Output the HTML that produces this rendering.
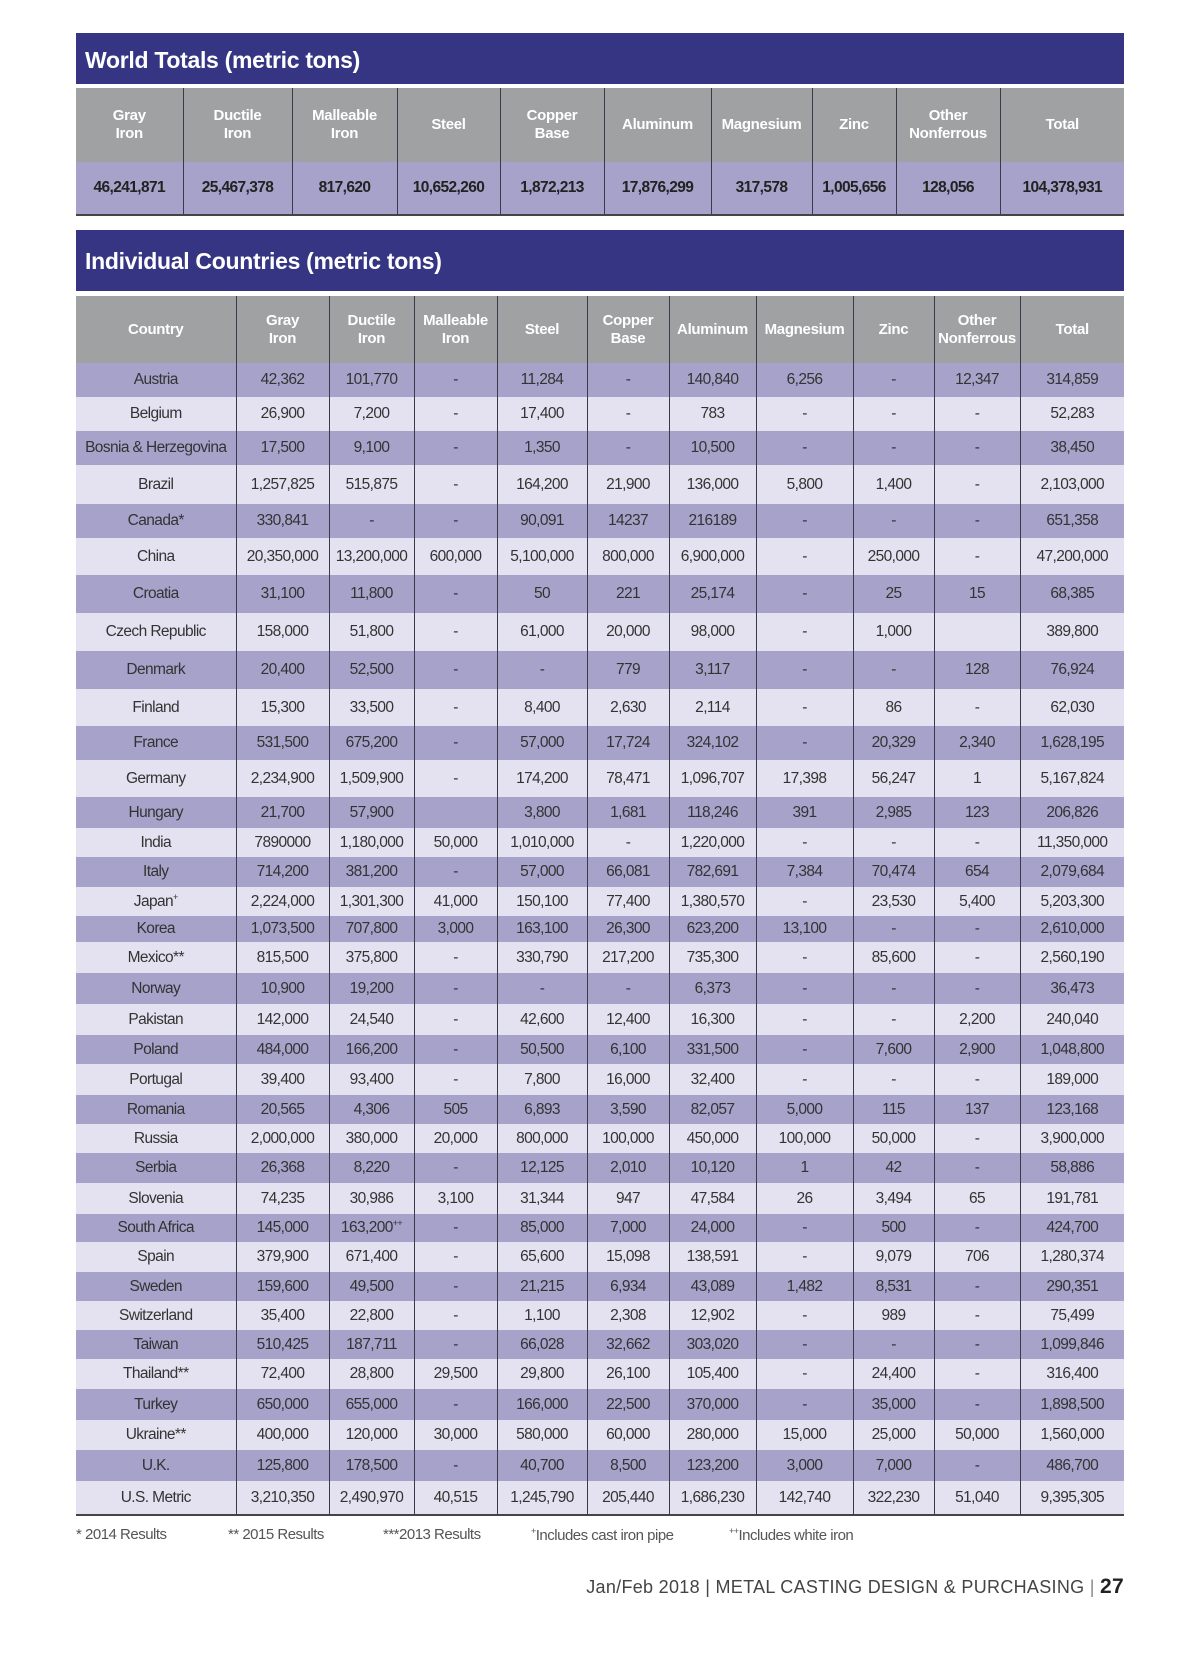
<!DOCTYPE html>
<html><head><meta charset="utf-8">
<style>
html,body{margin:0;padding:0;background:#fff;}
body{width:1200px;height:1653px;position:relative;font-family:"Liberation Sans",sans-serif;overflow:hidden;}
.bar{position:absolute;left:76px;width:1048px;background:#353584;color:#fff;font-weight:bold;font-size:23px;box-sizing:border-box;padding-left:9px;letter-spacing:-0.3px;}
table{position:absolute;left:76px;border-collapse:collapse;table-layout:fixed;}
td{text-align:center;padding:0;border-left:1px solid #3a3a48;font-size:15.5px;color:#333;letter-spacing:-0.6px;white-space:nowrap;overflow:hidden;}
td:first-child{border-left:none;}
tr.h td{background:#a0a1a3;color:#fff;font-weight:bold;font-size:15px;line-height:18px;letter-spacing:-0.3px;}
tr.p td{background:#a6a2ca;}
tr.l td{background:#e4e2f0;}
.w tr.p td{font-weight:bold;font-size:15.5px;color:#222;}
.fn{position:absolute;top:1526px;font-size:15px;color:#555;letter-spacing:-0.5px;}
.ft{position:absolute;top:1575px;right:76px;font-size:18px;color:#444;letter-spacing:0.3px;}
</style></head><body>
<div class="bar" style="top:33px;height:51px;line-height:54px;">World Totals (metric tons)</div>
<table class="w" style="top:88px;width:1048px;border-bottom:2px solid #444;">
<colgroup><col style="width:107px"><col style="width:109px"><col style="width:105px"><col style="width:103px"><col style="width:104px"><col style="width:107px"><col style="width:101px"><col style="width:84px"><col style="width:104px"><col style="width:124px"></colgroup>
<tr class="h" style="height:74px"><td>Gray<br>Iron</td><td>Ductile<br>Iron</td><td>Malleable<br>Iron</td><td>Steel</td><td>Copper<br>Base</td><td>Aluminum</td><td>Magnesium</td><td>Zinc</td><td>Other<br>Nonferrous</td><td>Total</td></tr>
<tr class="p" style="height:53px"><td>46,241,871</td><td>25,467,378</td><td>817,620</td><td>10,652,260</td><td>1,872,213</td><td>17,876,299</td><td>317,578</td><td>1,005,656</td><td>128,056</td><td>104,378,931</td></tr>
</table>
<div class="bar" style="top:230px;height:61px;line-height:62px;">Individual Countries (metric tons)</div>
<table style="top:296px;width:1048px;border-bottom:2px solid #444;">
<colgroup><col style="width:160px"><col style="width:93px"><col style="width:85px"><col style="width:83px"><col style="width:90px"><col style="width:82px"><col style="width:87px"><col style="width:97px"><col style="width:81px"><col style="width:86px"><col style="width:104px"></colgroup>
<tr class="h" style="height:67px"><td>Country</td><td>Gray<br>Iron</td><td>Ductile<br>Iron</td><td>Malleable<br>Iron</td><td>Steel</td><td>Copper<br>Base</td><td>Aluminum</td><td>Magnesium</td><td>Zinc</td><td>Other<br>Nonferrous</td><td>Total</td></tr>
<tr class="p" style="height:34px"><td>Austria</td><td>42,362</td><td>101,770</td><td>-</td><td>11,284</td><td>-</td><td>140,840</td><td>6,256</td><td>-</td><td>12,347</td><td>314,859</td></tr>
<tr class="l" style="height:34px"><td>Belgium</td><td>26,900</td><td>7,200</td><td>-</td><td>17,400</td><td>-</td><td>783</td><td>-</td><td>-</td><td>-</td><td>52,283</td></tr>
<tr class="p" style="height:34px"><td>Bosnia &amp; Herzegovina</td><td>17,500</td><td>9,100</td><td>-</td><td>1,350</td><td>-</td><td>10,500</td><td>-</td><td>-</td><td>-</td><td>38,450</td></tr>
<tr class="l" style="height:39px"><td>Brazil</td><td>1,257,825</td><td>515,875</td><td>-</td><td>164,200</td><td>21,900</td><td>136,000</td><td>5,800</td><td>1,400</td><td>-</td><td>2,103,000</td></tr>
<tr class="p" style="height:34px"><td>Canada*</td><td>330,841</td><td>-</td><td>-</td><td>90,091</td><td>14237</td><td>216189</td><td>-</td><td>-</td><td>-</td><td>651,358</td></tr>
<tr class="l" style="height:37px"><td>China</td><td>20,350,000</td><td>13,200,000</td><td>600,000</td><td>5,100,000</td><td>800,000</td><td>6,900,000</td><td>-</td><td>250,000</td><td>-</td><td>47,200,000</td></tr>
<tr class="p" style="height:38px"><td>Croatia</td><td>31,100</td><td>11,800</td><td>-</td><td>50</td><td>221</td><td>25,174</td><td>-</td><td>25</td><td>15</td><td>68,385</td></tr>
<tr class="l" style="height:38px"><td>Czech Republic</td><td>158,000</td><td>51,800</td><td>-</td><td>61,000</td><td>20,000</td><td>98,000</td><td>-</td><td>1,000</td><td></td><td>389,800</td></tr>
<tr class="p" style="height:38px"><td>Denmark</td><td>20,400</td><td>52,500</td><td>-</td><td>-</td><td>779</td><td>3,117</td><td>-</td><td>-</td><td>128</td><td>76,924</td></tr>
<tr class="l" style="height:37px"><td>Finland</td><td>15,300</td><td>33,500</td><td>-</td><td>8,400</td><td>2,630</td><td>2,114</td><td>-</td><td>86</td><td>-</td><td>62,030</td></tr>
<tr class="p" style="height:34px"><td>France</td><td>531,500</td><td>675,200</td><td>-</td><td>57,000</td><td>17,724</td><td>324,102</td><td>-</td><td>20,329</td><td>2,340</td><td>1,628,195</td></tr>
<tr class="l" style="height:37px"><td>Germany</td><td>2,234,900</td><td>1,509,900</td><td>-</td><td>174,200</td><td>78,471</td><td>1,096,707</td><td>17,398</td><td>56,247</td><td>1</td><td>5,167,824</td></tr>
<tr class="p" style="height:31px"><td>Hungary</td><td>21,700</td><td>57,900</td><td></td><td>3,800</td><td>1,681</td><td>118,246</td><td>391</td><td>2,985</td><td>123</td><td>206,826</td></tr>
<tr class="l" style="height:29px"><td>India</td><td>7890000</td><td>1,180,000</td><td>50,000</td><td>1,010,000</td><td>-</td><td>1,220,000</td><td>-</td><td>-</td><td>-</td><td>11,350,000</td></tr>
<tr class="p" style="height:30px"><td>Italy</td><td>714,200</td><td>381,200</td><td>-</td><td>57,000</td><td>66,081</td><td>782,691</td><td>7,384</td><td>70,474</td><td>654</td><td>2,079,684</td></tr>
<tr class="l" style="height:29px"><td>Japan<sup style="font-size:9px">+</sup></td><td>2,224,000</td><td>1,301,300</td><td>41,000</td><td>150,100</td><td>77,400</td><td>1,380,570</td><td>-</td><td>23,530</td><td>5,400</td><td>5,203,300</td></tr>
<tr class="p" style="height:26px"><td>Korea</td><td>1,073,500</td><td>707,800</td><td>3,000</td><td>163,100</td><td>26,300</td><td>623,200</td><td>13,100</td><td>-</td><td>-</td><td>2,610,000</td></tr>
<tr class="l" style="height:31px"><td>Mexico**</td><td>815,500</td><td>375,800</td><td>-</td><td>330,790</td><td>217,200</td><td>735,300</td><td>-</td><td>85,600</td><td>-</td><td>2,560,190</td></tr>
<tr class="p" style="height:31px"><td>Norway</td><td>10,900</td><td>19,200</td><td>-</td><td>-</td><td>-</td><td>6,373</td><td>-</td><td>-</td><td>-</td><td>36,473</td></tr>
<tr class="l" style="height:31px"><td>Pakistan</td><td>142,000</td><td>24,540</td><td>-</td><td>42,600</td><td>12,400</td><td>16,300</td><td>-</td><td>-</td><td>2,200</td><td>240,040</td></tr>
<tr class="p" style="height:29px"><td>Poland</td><td>484,000</td><td>166,200</td><td>-</td><td>50,500</td><td>6,100</td><td>331,500</td><td>-</td><td>7,600</td><td>2,900</td><td>1,048,800</td></tr>
<tr class="l" style="height:31px"><td>Portugal</td><td>39,400</td><td>93,400</td><td>-</td><td>7,800</td><td>16,000</td><td>32,400</td><td>-</td><td>-</td><td>-</td><td>189,000</td></tr>
<tr class="p" style="height:29px"><td>Romania</td><td>20,565</td><td>4,306</td><td>505</td><td>6,893</td><td>3,590</td><td>82,057</td><td>5,000</td><td>115</td><td>137</td><td>123,168</td></tr>
<tr class="l" style="height:29px"><td>Russia</td><td>2,000,000</td><td>380,000</td><td>20,000</td><td>800,000</td><td>100,000</td><td>450,000</td><td>100,000</td><td>50,000</td><td>-</td><td>3,900,000</td></tr>
<tr class="p" style="height:30px"><td>Serbia</td><td>26,368</td><td>8,220</td><td>-</td><td>12,125</td><td>2,010</td><td>10,120</td><td>1</td><td>42</td><td>-</td><td>58,886</td></tr>
<tr class="l" style="height:31px"><td>Slovenia</td><td>74,235</td><td>30,986</td><td>3,100</td><td>31,344</td><td>947</td><td>47,584</td><td>26</td><td>3,494</td><td>65</td><td>191,781</td></tr>
<tr class="p" style="height:28px"><td>South Africa</td><td>145,000</td><td>163,200<sup style="font-size:9px">++</sup></td><td>-</td><td>85,000</td><td>7,000</td><td>24,000</td><td>-</td><td>500</td><td>-</td><td>424,700</td></tr>
<tr class="l" style="height:30px"><td>Spain</td><td>379,900</td><td>671,400</td><td>-</td><td>65,600</td><td>15,098</td><td>138,591</td><td>-</td><td>9,079</td><td>706</td><td>1,280,374</td></tr>
<tr class="p" style="height:29px"><td>Sweden</td><td>159,600</td><td>49,500</td><td>-</td><td>21,215</td><td>6,934</td><td>43,089</td><td>1,482</td><td>8,531</td><td>-</td><td>290,351</td></tr>
<tr class="l" style="height:29px"><td>Switzerland</td><td>35,400</td><td>22,800</td><td>-</td><td>1,100</td><td>2,308</td><td>12,902</td><td>-</td><td>989</td><td>-</td><td>75,499</td></tr>
<tr class="p" style="height:29px"><td>Taiwan</td><td>510,425</td><td>187,711</td><td>-</td><td>66,028</td><td>32,662</td><td>303,020</td><td>-</td><td>-</td><td>-</td><td>1,099,846</td></tr>
<tr class="l" style="height:30px"><td>Thailand**</td><td>72,400</td><td>28,800</td><td>29,500</td><td>29,800</td><td>26,100</td><td>105,400</td><td>-</td><td>24,400</td><td>-</td><td>316,400</td></tr>
<tr class="p" style="height:31px"><td>Turkey</td><td>650,000</td><td>655,000</td><td>-</td><td>166,000</td><td>22,500</td><td>370,000</td><td>-</td><td>35,000</td><td>-</td><td>1,898,500</td></tr>
<tr class="l" style="height:30px"><td>Ukraine**</td><td>400,000</td><td>120,000</td><td>30,000</td><td>580,000</td><td>60,000</td><td>280,000</td><td>15,000</td><td>25,000</td><td>50,000</td><td>1,560,000</td></tr>
<tr class="p" style="height:31px"><td>U.K.</td><td>125,800</td><td>178,500</td><td>-</td><td>40,700</td><td>8,500</td><td>123,200</td><td>3,000</td><td>7,000</td><td>-</td><td>486,700</td></tr>
<tr class="l" style="height:34px"><td>U.S. Metric</td><td>3,210,350</td><td>2,490,970</td><td>40,515</td><td>1,245,790</td><td>205,440</td><td>1,686,230</td><td>142,740</td><td>322,230</td><td>51,040</td><td>9,395,305</td></tr>
</table>
<div class="fn" style="left:76px">* 2014 Results</div>
<div class="fn" style="left:228px">** 2015 Results</div>
<div class="fn" style="left:383px">***2013 Results</div>
<div class="fn" style="left:531px"><sup style="font-size:9px">+</sup>Includes cast iron pipe</div>
<div class="fn" style="left:729px"><sup style="font-size:9px">++</sup>Includes white iron</div>
<div class="ft">Jan/Feb 2018 | METAL CASTING DESIGN &amp; PURCHASING <span style="color:#888">|</span> <b style="color:#222;font-size:21px">27</b></div>
</body></html>
